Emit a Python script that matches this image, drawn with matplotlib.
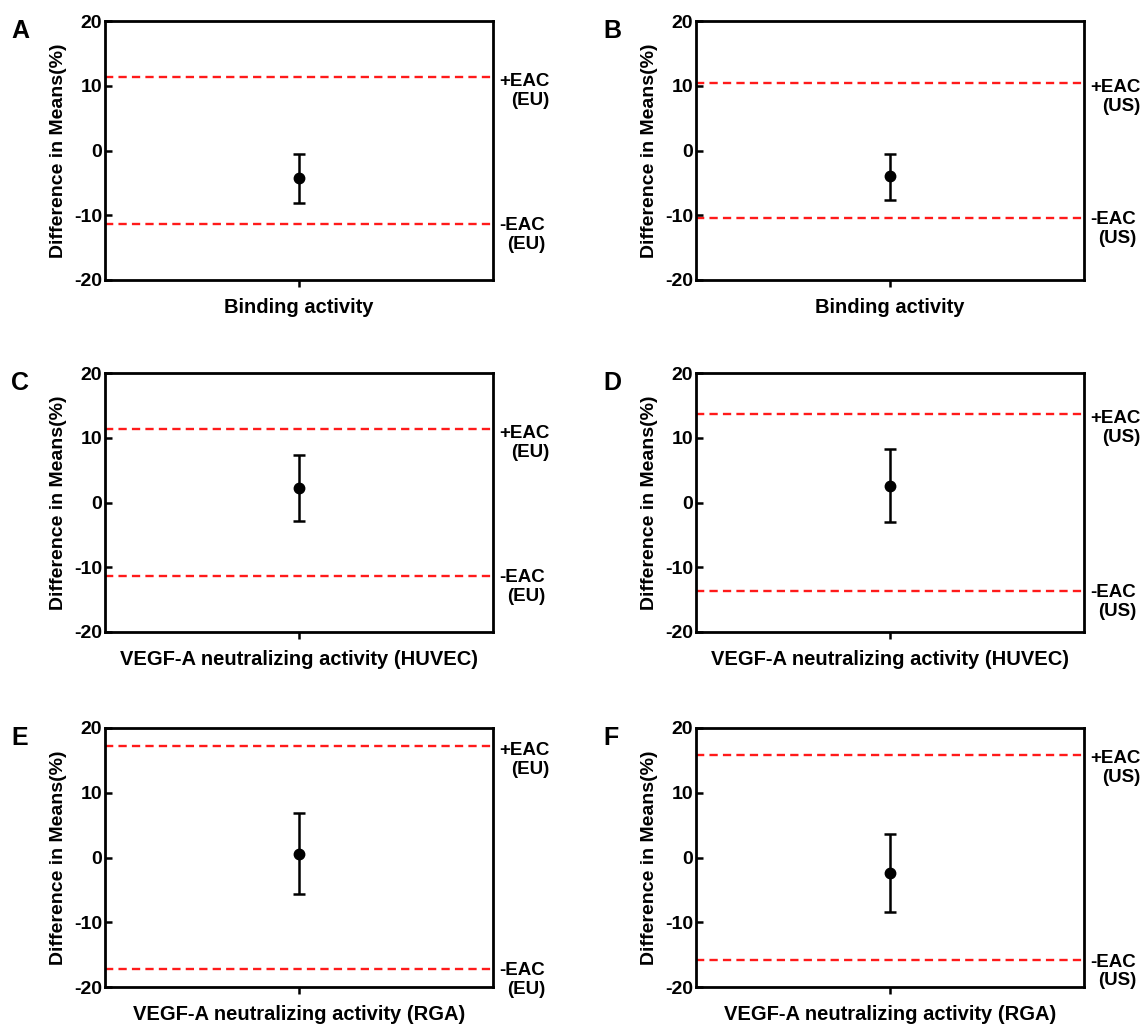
import matplotlib
matplotlib.use("Agg")
import matplotlib.pyplot as plt

plt.rcParams['font.family'] = ['Liberation Sans', 'DejaVu Sans']
plt.rcParams['font.weight'] = 'bold'
plt.rcParams['font.size'] = 14

# Equivalence test results per panel
panel_letters = ['A', 'B', 'C', 'D', 'E', 'F']
assays = ['Binding activity', 'Binding activity',
          'VEGF-A neutralizing activity (HUVEC)', 'VEGF-A neutralizing activity (HUVEC)',
          'VEGF-A neutralizing activity (RGA)', 'VEGF-A neutralizing activity (RGA)']
regions = ['EU', 'US', 'EU', 'US', 'EU', 'US']
mean_diff = [-4.3, -4.0, 2.2, 2.6, 0.6, -2.4]
ci_low = [-8.1, -7.7, -2.9, -3.0, -5.6, -8.4]
ci_high = [-0.5, -0.5, 7.3, 8.2, 6.9, 3.6]
eac = [11.3, 10.4, 11.3, 13.6, 17.2, 15.9]
y_ticks = [-20, -10, 0, 10, 20]

W, H = 1142, 1024
fig = plt.figure(figsize=(W / 100, H / 100), dpi=100)

col_left = [105, 696]
row_top = [21, 373, 728]
ax_w, ax_h = 388, 259

for i in range(6):
    r, c = divmod(i, 2)
    left = col_left[c] / W
    bottom = 1 - (row_top[r] + ax_h) / H
    ax = fig.add_axes([left, bottom, ax_w / W, ax_h / H])

    # equivalence acceptance criteria
    ax.axhline(eac[i], color='#ff1a1a', linestyle=(0, (3.5, 2.2)), linewidth=1.7, zorder=1)
    ax.axhline(-eac[i], color='#ff1a1a', linestyle=(0, (3.5, 2.2)), linewidth=1.7, zorder=1)

    err = [[mean_diff[i] - ci_low[i]], [ci_high[i] - mean_diff[i]]]
    ax.errorbar([0], [mean_diff[i]], yerr=err, fmt='o', color='black', markersize=7.5,
                elinewidth=1.8, capsize=4, capthick=1.8, zorder=3)

    ax.set_xlim(-1, 1)
    ax.set_ylim(-20, 20)
    ax.set_yticks(y_ticks)
    ax.set_yticklabels([str(t) for t in y_ticks], fontweight='bold', fontsize=14)
    ax.set_xticks([0])
    ax.set_xticklabels([assays[i]], fontweight='bold', fontsize=14.5)
    ax.tick_params(axis='y', direction='in', length=5, width=1.8, pad=2)
    ax.tick_params(axis='x', direction='out', length=5, width=1.8, pad=8)
    for s in ax.spines.values():
        s.set_linewidth(2.0)
    ax.set_ylabel('Difference in Means(%)', fontweight='bold', fontsize=14, labelpad=5)

    ax.annotate('+EAC\n(' + regions[i] + ')', xy=(1, eac[i]), xycoords=ax.get_yaxis_transform(),
                xytext=(4.5, 3), textcoords='offset points', ha='left', va='top',
                multialignment='right', fontweight='bold', fontsize=13.5, linespacing=1.15,
                annotation_clip=False)
    ax.annotate('-EAC\n(' + regions[i] + ')', xy=(1, -eac[i]), xycoords=ax.get_yaxis_transform(),
                xytext=(4.5, 5), textcoords='offset points', ha='left', va='top',
                multialignment='right', fontweight='bold', fontsize=13.5, linespacing=1.15,
                annotation_clip=False)

    letter_x = [11, 603][c] / W
    letter_y = 1 - (row_top[r] + 10) / H
    fig.text(letter_x, letter_y, panel_letters[i], fontsize=18, fontweight='bold',
             ha='left', va='center')

fig.savefig('out.png', dpi=100)
